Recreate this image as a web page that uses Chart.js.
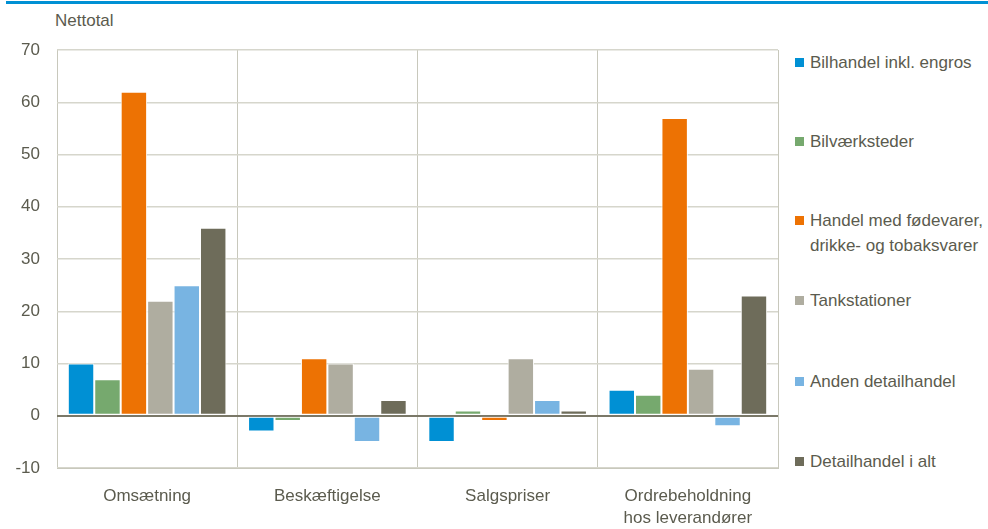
<!DOCTYPE html>
<html lang="da">
  <head>
    <meta charset="UTF-8" />
    <title>Nettotal</title>
    <script src="https://cdn.jsdelivr.net/npm/chart.js"></script>
    <style>
      body {
        margin: 0;
        background-color: #ffffff;
        font-family: 'Liberation Sans', Arial, sans-serif;
        color: #5b5b4e;
      }
      #topline {
        position: absolute;
        left: 6px;
        right: 0;
        top: 1px;
        height: 3px;
        background-color: #0090d4;
      }
      #unit {
        position: absolute;
        left: 55px;
        top: 11px;
        font-size: 17px;
      }
      #chart-box {
        position: absolute;
        left: 0;
        top: 0;
        width: 782px;
        height: 529px;
      }
      .legend-item {
        position: absolute;
        left: 795px;
        font-size: 17px;
        line-height: 25px;
      }
      .legend-item span.box {
        position: absolute;
        left: 0;
        top: 8px;
        width: 9px;
        height: 9px;
      }
      .legend-item span.txt {
        display: block;
        margin-left: 15px;
      }
    </style>
  </head>
  <body>
    <div id="topline"></div>
    <div id="unit">Nettotal</div>
    <div id="chart-box"><canvas id="bars"></canvas></div>
    <div id="legend"></div>

    <script>
      const categories = ['Omsætning', 'Beskæftigelse', 'Salgspriser', ['Ordrebeholdning', 'hos leverandører']];
      const seriesNames = [
        'Bilhandel inkl. engros',
        'Bilværksteder',
        'Handel med fødevarer,\ndrikke- og tobaksvarer',
        'Tankstationer',
        'Anden detailhandel',
        'Detailhandel i alt',
      ];
      const bilhandel = [10, -3, -5, 5];
      const bilvaerksteder = [7, -1, 1, 4];
      const foedevarer = [62, 11, -1, 57];
      const tankstationer = [22, 10, 11, 9];
      const andenDetail = [25, -5, 3, -2];
      const detailIAlt = [36, 3, 1, 23];
      const colors = ['#0090d4', '#76a96e', '#ed7203', '#afada0', '#78b4e2', '#6e6c5a'];
      const legendTops = [50, 129, 208, 288, 369, 449];

      const seriesValues = [bilhandel, bilvaerksteder, foedevarer, tankstationer, andenDetail, detailIAlt];

      // legend on the right, built as html
      const legend = document.getElementById('legend');
      seriesNames.forEach((name, i) => {
        const item = document.createElement('div');
        item.className = 'legend-item';
        item.style.top = legendTops[i] + 'px';
        const box = document.createElement('span');
        box.className = 'box';
        box.style.backgroundColor = colors[i];
        const txt = document.createElement('span');
        txt.className = 'txt';
        txt.innerHTML = name.replace('\n', '<br>');
        item.appendChild(box);
        item.appendChild(txt);
        legend.appendChild(item);
      });

      const ctx = document.getElementById('bars').getContext('2d');
      new Chart(ctx, {
        type: 'bar',
        data: {
          labels: categories,
          datasets: seriesNames.map((name, i) => ({
            label: name,
            data: seriesValues[i],
            backgroundColor: colors[i],
            borderColor: '#ffffff',
            borderWidth: 1,
            borderSkipped: false,
            categoryPercentage: 0.88,
            barPercentage: 1.0,
          })),
        },
        options: {
          responsive: true,
          maintainAspectRatio: false,
          animation: false,
          layout: {
            padding: { top: 50, right: 4, bottom: 0, left: 0 },
          },
          plugins: {
            legend: { display: false },
            tooltip: { enabled: false },
          },
          scales: {
            x: {
              offset: true,
              grid: {
                offset: true,
                color: '#c8c8bc',
                lineWidth: 1,
                drawTicks: false,
              },
              border: { color: '#c8c8bc' },
              ticks: {
                color: '#5b5b4e',
                font: { family: 'Liberation Sans', size: 17, lineHeight: 1.3 },
                padding: 17,
                maxRotation: 0,
              },
              afterFit: function (scale) {
                scale.height = 61;
              },
            },
            y: {
              min: -10,
              max: 70,
              ticks: {
                stepSize: 10,
                color: '#5b5b4e',
                font: { family: 'Liberation Sans', size: 17 },
                padding: 17,
              },
              grid: {
                drawTicks: false,
                color: (c) => (c.tick && c.tick.value === 0 ? '#7a7868' : '#d6d6cc'),
                lineWidth: (c) => (c.tick && c.tick.value === 0 ? 2 : 1.5),
              },
              border: { display: false },
              afterFit: function (scale) {
                scale.width = 57;
              },
            },
          },
        },
      });
    </script>
  </body>
</html>
